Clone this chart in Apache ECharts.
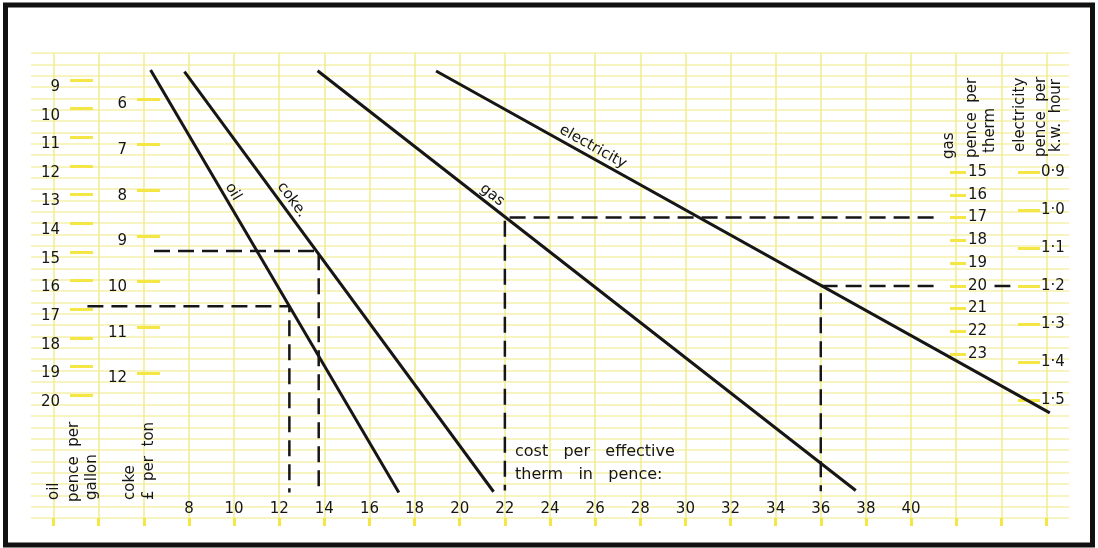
<!DOCTYPE html>
<html>
<head>
<meta charset="utf-8">
<title>cost per effective therm</title>
<script src="https://cdn.jsdelivr.net/npm/echarts/dist/echarts.min.js"></script>
<style>
html, body { margin: 0; padding: 0; background: #fff; }
#nomo { width: 1098px; height: 548px; }
</style>
</head>
<body>
<div id="nomo"></div>
<script>
// cost per effective therm (pence) - bottom scale
var costTicks = [8, 10, 12, 14, 16, 18, 20, 22, 24, 26, 28, 30, 32, 34, 36, 38, 40];
var costTickMarks = [2, 4, 6, 8, 10, 12, 14, 16, 18, 20, 22, 24, 26, 28, 30, 32, 34, 36, 38, 40, 42, 44, 46];
// price scales
var oilTicks = [9, 10, 11, 12, 13, 14, 15, 16, 17, 18, 19, 20];
var cokeTicks = [6, 7, 8, 9, 10, 11, 12];
var gasTicks = [15, 16, 17, 18, 19, 20, 21, 22, 23];
var elecTicks = [0.9, 1.0, 1.1, 1.2, 1.3, 1.4, 1.5];

// fuel lines: [cost per therm, price on the fuel's own scale]
var oilLine = [[6.3, 8.65], [17.3, 23.4]];
var cokeLine = [[7.8, 5.4], [21.5, 14.6]];
var gasLine = [[13.7, 10.55], [37.55, 29.0]];
var elecLine = [[18.95, 0.634], [46.15, 1.534]];

// worked examples (dashed)
var oilExample = [[3.5, 16.9], [12.45, 16.9], [12.45, 23.4]];
var cokeExample = [[6.45, 9.33], [13.75, 9.33], [13.75, 14.55]];
var gasExample = [[41.0, 17], [22.0, 17], [22.0, 29.0]];
var elecExample = [[41.0, 1.2], [36.0, 1.2], [36.0, 1.74]];
var elecExampleEnd = [[43.7, 1.2], [44.4, 1.2]];

// where the names sit along each line
var oilNameAt = [9.95, 12.9];
var cokeNameAt = [12.56, 8.21];
var gasNameAt = [21.43, 16.01];
var elecNameAt = [25.9, 0.834];

(function() {
	'use strict';
	var FONT = '"DejaVu Sans", sans-serif';
	var INK = '#161616';
	var TICK = '#f3e645';
	var PAPER_V = '#f1ed8e';
	var PAPER_H = '#f4f1aa';

	var chart = echarts.init(document.getElementById('nomo'), null, {renderer: 'canvas'});

	function scaleAxis(pos, offset, min, max, ticks, tickLen, margin, lh, fmt) {
		return {
			type: 'value',
			position: pos,
			offset: offset,
			inverse: true,
			min: min,
			max: max,
			axisLine: {show: false, onZero: false},
			splitLine: {show: false},
			axisTick: {
				show: true,
				length: tickLen,
				customValues: ticks,
				lineStyle: {color: TICK, width: 3}
			},
			axisLabel: {
				customValues: ticks,
				margin: margin,
				verticalAlign: lh ? 'top' : 'middle',
				lineHeight: lh || 18,
				color: INK,
				fontSize: 15,
				fontFamily: FONT,
				formatter: fmt
			}
		};
	}

	function fuel(name, yi, data) {
		return {
			name: name,
			type: 'line',
			xAxisIndex: 0,
			yAxisIndex: yi,
			data: data,
			symbol: 'none',
			silent: true,
			lineStyle: {color: INK, width: 3}
		};
	}

	function example(yi, data) {
		return {
			type: 'line',
			xAxisIndex: 0,
			yAxisIndex: yi,
			data: data,
			symbol: 'none',
			silent: true,
			lineStyle: {color: INK, width: 2.5, type: [16, 8]}
		};
	}

	var option = {
		animation: false,
		backgroundColor: '#fff',
		grid: {left: 31, right: 29, top: 53, bottom: 30, outerBoundsMode: 'none'},
		xAxis: {
			type: 'value',
			min: 1,
			max: 47,
			interval: 0.5,
			position: 'bottom',
			axisLine: {show: false, onZero: false},
			splitLine: {show: true, lineStyle: {color: PAPER_V, width: 1.5}},
			axisTick: {
				show: true,
				length: 8,
				customValues: costTickMarks,
				lineStyle: {color: TICK, width: 3}
			},
			axisLabel: {
				inside: true,
				margin: 1,
				customValues: costTicks,
				color: INK,
				fontSize: 15,
				fontFamily: FONT,
				formatter: function(v) {
					return costTicks.indexOf(v) >= 0 ? String(v) : '';
				}
			}
		},
		yAxis: [
			// graph paper
			{
				type: 'value', position: 'left', min: 0, max: 41, interval: 1,
				axisLine: {show: false, onZero: false},
				axisTick: {show: false},
				axisLabel: {show: false},
				splitLine: {show: true, lineStyle: {color: PAPER_H, width: 1.5}}
			},
			scaleAxis('left', -62, 8.057, 24.293, oilTicks, 23, 33, 14),
			scaleAxis('left', -129, 4.993, 15.175, cokeTicks, 23, 33, 11),
			scaleAxis('right', -119, 9.769, 30.209, gasTicks, 16, 18, 0),
			scaleAxis('right', -51, 0.5868, 1.8105, elecTicks, 22, 23, 0, function(v) {
				return v.toFixed(1).replace('.', '\u00b7');
			})
		],
		series: [
			fuel('oil', 1, oilLine),
			fuel('coke', 2, cokeLine),
			fuel('gas', 3, gasLine),
			fuel('electricity', 4, elecLine),
			example(1, oilExample),
			example(2, cokeExample),
			example(3, gasExample),
			example(4, elecExample),
			example(4, elecExampleEnd)
		]
	};
	chart.setOption(option);

	function txt(s, x, y, rot, size, align) {
		return {
			type: 'text',
			x: x,
			y: y,
			rotation: rot,
			silent: true,
			style: {
				text: s,
				fill: INK,
				font: size + 'px ' + FONT,
				align: align,
				verticalAlign: 'middle'
			}
		};
	}

	var up = Math.PI / 2;
	var graphics = [
		{
			type: 'rect',
			silent: true,
			shape: {x: 5.5, y: 5, width: 1087, height: 540},
			style: {fill: 'none', stroke: '#111', lineWidth: 5}
		},
		// scale titles
		txt('oil', 54, 500, up, 15, 'left'),
		txt('pence  per', 74, 502, up, 15, 'left'),
		txt('gallon', 92, 500, up, 15, 'left'),
		txt('coke', 130, 500, up, 15, 'left'),
		txt('\u00a3  per  ton', 149, 500, up, 15, 'left'),
		txt('gas', 949, 159, up, 15, 'left'),
		txt('pence  per', 972, 158, up, 15, 'left'),
		txt('therm', 990, 153, up, 15, 'left'),
		txt('electricity', 1020, 152, up, 15, 'left'),
		txt('pence  per', 1041, 157, up, 15, 'left'),
		txt('k.w.  hour', 1056, 152, up, 15, 'left'),
		txt('cost   per   effective', 515, 452, 0, 16, 'left'),
		txt('therm   in   pence:', 515, 475, 0, 16, 'left')
	];

	// line names, turned to follow each line
	var names = [
		['oil', 1, oilLine, oilNameAt],
		['coke.', 2, cokeLine, cokeNameAt],
		['gas', 3, gasLine, gasNameAt],
		['electricity', 4, elecLine, elecNameAt]
	];
	names.forEach(function(n) {
		var finder = {xAxisIndex: 0, yAxisIndex: n[1]};
		var p0 = chart.convertToPixel(finder, n[2][0]);
		var p1 = chart.convertToPixel(finder, n[2][1]);
		var c = chart.convertToPixel(finder, n[3]);
		var ang = Math.atan2(p1[1] - p0[1], p1[0] - p0[0]);
		graphics.push(txt(n[0], c[0], c[1], -ang, 15, 'center'));
	});

	chart.setOption({graphic: graphics});
	window.onresize = chart.resize;
}());
</script>
</body>
</html>
